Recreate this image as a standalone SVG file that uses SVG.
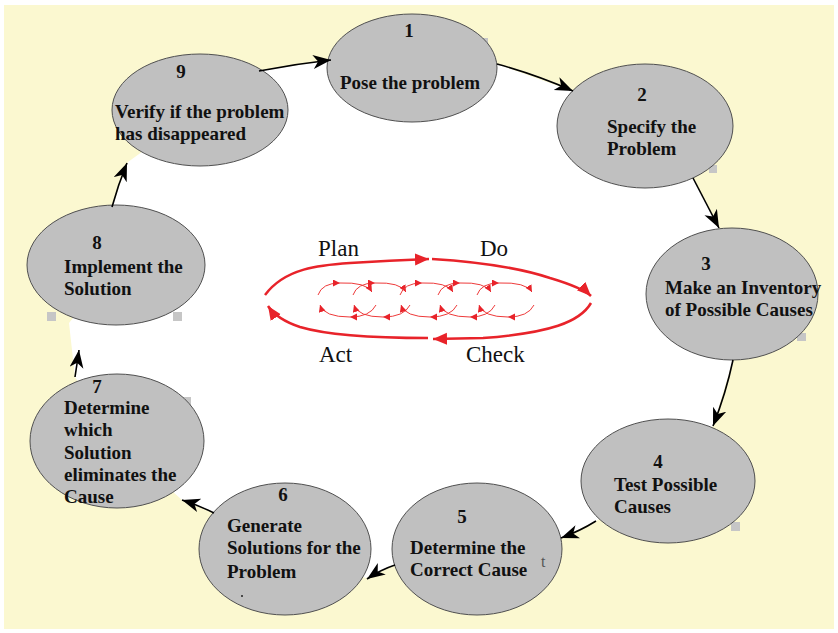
<svg xmlns="http://www.w3.org/2000/svg" width="838" height="633" viewBox="0 0 838 633">
<defs>
<marker id="ah" markerUnits="userSpaceOnUse" markerWidth="20" markerHeight="16" refX="18" refY="7" orient="auto">
<path d="M0,0 L18,7 L0,14 L5,7 z" fill="#000"/>
</marker>
<marker id="rb" markerUnits="userSpaceOnUse" markerWidth="16" markerHeight="14" refX="14" refY="6" orient="auto">
<path d="M0,0 L14,6 L0,12 z" fill="#e8232a"/>
</marker>
<marker id="rs" markerUnits="userSpaceOnUse" markerWidth="9" markerHeight="8" refX="7" refY="3.5" orient="auto">
<path d="M0,0 L7,3.5 L0,7 z" fill="#e8232a"/>
</marker>
<style>
.node ellipse{fill:#c0c0c0;stroke:#505050;stroke-width:1}
.node text{font-family:"Liberation Serif","Times New Roman",serif;font-weight:bold;font-size:19px;fill:#111}
.node .num{font-size:19px;text-anchor:middle}
.sq{fill:#c6c6c6}
.conn path{fill:none;stroke:#000;stroke-width:1.6;marker-end:url(#ah)}
.big{fill:none;stroke:#e8232a;stroke-width:2.5;marker-end:url(#rb)}
.small path{fill:none;stroke:#ee3a3a;stroke-width:1;marker-end:url(#rs)}
.lbl{font-family:"Liberation Serif","Times New Roman",serif;font-size:23px;fill:#111}
</style>
</defs>
<rect x="0" y="0" width="838" height="633" fill="#fff"/>
<rect x="4" y="5" width="830" height="624" fill="#fbf8d0"/>
<polygon fill="#fff" points="259,71 331,60 412,68 497,64 572,91 645,126 693,178 719,228 732,294 733,360 713,426 668,481 596,521 561,538 477,549 395,565 366,578 285,549 214,513 182,500 117,441 75,377 69,323 116,265 112,207 128,162 200,110"/>

<g id="squares">
<rect class="sq" x="480" y="38" width="8" height="8"/>
<rect class="sq" x="709" y="165" width="8" height="8"/>
<rect class="sq" x="797" y="333" width="9" height="8"/>
<rect class="sq" x="731" y="522" width="9" height="9"/>
<rect class="sq" x="47" y="312" width="9" height="9"/>
<rect class="sq" x="173" y="312" width="9" height="9"/>
<rect class="sq" x="183" y="397" width="8" height="26"/>
</g>

<g id="node1" class="node"><ellipse cx="412" cy="68" rx="85" ry="54"/><text class="num" x="409" y="37">1</text><text x="340" y="89">Pose the problem</text></g>
<g id="node2" class="node"><ellipse cx="645" cy="126" rx="88" ry="62"/><text class="num" x="642" y="101">2</text><text x="607" y="133">Specify the</text><text x="607" y="155">Problem</text></g>
<g id="node3" class="node"><ellipse cx="732" cy="294" rx="86" ry="66"/><text class="num" x="706" y="270">3</text><text x="665" y="294">Make an Inventory</text><text x="665" y="316">of Possible Causes</text></g>
<g id="node4" class="node"><ellipse cx="668" cy="481" rx="87" ry="62"/><text class="num" x="658" y="468">4</text><text x="614" y="491">Test Possible</text><text x="614" y="513">Causes</text></g>
<g id="node5" class="node"><ellipse cx="477" cy="549" rx="85" ry="66"/><text class="num" x="462" y="523">5</text><text x="410" y="554">Determine the</text><text x="410" y="576">Correct Cause</text><text x="541" y="567" style="font-weight:normal;font-size:16px;fill:#555">t</text></g>
<g id="node6" class="node"><ellipse cx="285" cy="549" rx="86" ry="66"/><text class="num" x="283" y="501">6</text><text x="227" y="532">Generate</text><text x="227" y="554">Solutions for the</text><text x="227" y="578">Problem</text><circle cx="242" cy="596" r="1" fill="#222"/></g>
<g id="node7" class="node"><ellipse cx="117" cy="441" rx="87" ry="67"/><text class="num" x="97" y="393">7</text><text x="64" y="414">Determine</text><text x="64" y="436">which</text><text x="64" y="459">Solution</text><text x="64" y="481">eliminates the</text><text x="64" y="503">Cause</text></g>
<g id="node8" class="node"><ellipse cx="116" cy="265" rx="89" ry="60"/><text class="num" x="97" y="249">8</text><text x="64" y="273">Implement the</text><text x="64" y="295">Solution</text></g>
<g id="node9" class="node"><ellipse cx="200" cy="110" rx="88" ry="56"/><text class="num" x="181" y="78">9</text><text x="115" y="118">Verify if the problem</text><text x="115" y="140">has disappeared</text></g>

<g id="connectors" class="conn">
<path d="M259,71 Q295,64 331,60"/>
<path d="M497,64 Q537,75 573,91"/>
<path d="M693,178 Q706,203 719,228"/>
<path d="M733,360 Q726,393 713,426"/>
<path d="M596,521 Q580,531 561,538"/>
<path d="M395,565 Q380,570 367,579"/>
<path d="M214,513 Q198,505 182,500"/>
<path d="M75,377 Q77,364 79,350"/>
<path d="M112,207 Q118,185 127,163"/>
</g>

<g id="pdca">
<path class="big" d="M265,295 C285,268 320,265 350,263 C380,261 400,260 429,259"/>
<path class="big" d="M432,259 C480,262 520,268 550,278 C570,284 585,290 591,296"/>
<path class="big" d="M591,303 C580,322 550,333 483,338 L433,339"/>
<path class="big" d="M428,338 C380,338 330,336 300,327 C285,322 274,315 268,306"/>
<g class="small">
<path d="M318,295 Q322,283 340,283"/><path d="M340,283 Q366,282 372,292"/><path d="M376,305 Q370,317 350,317"/><path d="M350,317 Q324,317 320,305"/>
<path d="M353,295 Q357,283 375,283"/><path d="M375,283 Q400,282 406,292"/><path d="M410,305 Q404,317 383,317"/><path d="M383,317 Q358,317 354,305"/>
<path d="M400,295 Q404,283 422,283"/><path d="M422,283 Q447,282 453,292"/><path d="M457,305 Q451,317 430,317"/><path d="M430,317 Q405,317 401,305"/>
<path d="M438,295 Q442,283 460,283"/><path d="M460,283 Q485,282 491,292"/><path d="M495,305 Q489,317 470,317"/><path d="M470,317 Q444,317 440,305"/>
<path d="M477,295 Q481,283 499,283"/><path d="M499,283 Q526,282 532,292"/><path d="M534,305 Q528,317 508,317"/><path d="M508,317 Q483,317 479,305"/>
</g>
<text class="lbl" x="318" y="256">Plan</text>
<text class="lbl" x="480" y="256">Do</text>
<text class="lbl" x="319" y="362">Act</text>
<text class="lbl" x="466" y="362">Check</text>
</g>
</svg>
